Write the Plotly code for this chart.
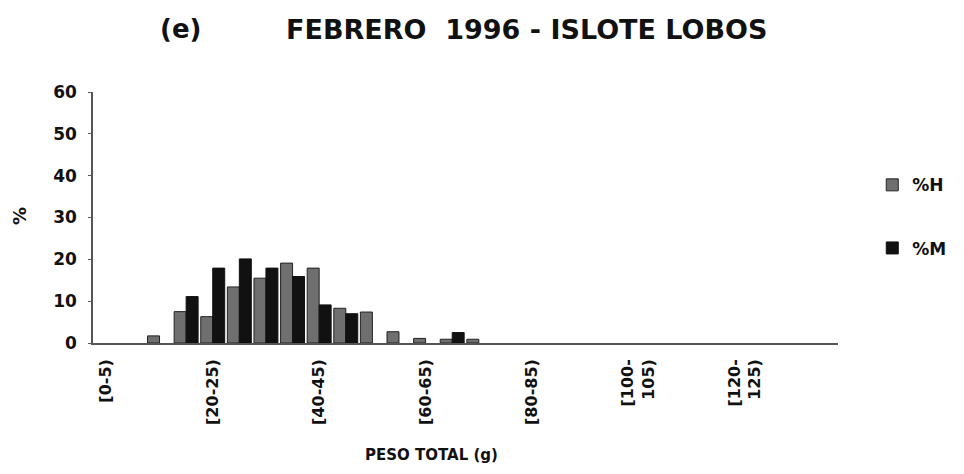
import plotly.graph_objects as go

# Categories: weight classes of 5 g
lows = list(range(0, 140, 5))
categories = [f"[{a}-{a+5})" for a in lows]

pct_h = [0, 0, 1.7, 7.5, 6.3, 13.4, 15.5, 19.1, 17.9, 8.3, 7.4, 2.7, 1.1, 0.9,
         0.9, 0, 0, 0, 0, 0, 0, 0, 0, 0, 0, 0, 0, 0]
pct_m = [0, 0, 0, 11.1, 17.9, 20.1, 17.9, 15.9, 9.1, 7.0, 0, 0, 0, 2.5,
         0, 0, 0, 0, 0, 0, 0, 0, 0, 0, 0, 0, 0, 0]

tick_cats = ["[0-5)", "[20-25)", "[40-45)", "[60-65)", "[80-85)", "[100-105)", "[120-125)"]
tick_text = ["[0-5)", "[20-25)", "[40-45)", "[60-65)", "[80-85)", "[100-<br>105)", "[120-<br>125)"]

FONT = "DejaVu Sans, sans-serif"
INK = "#111111"


def nz(vals):
    # zero-height classes are drawn as no bar at all
    return [v if v else None for v in vals]


fig = go.Figure()
fig.add_trace(go.Bar(x=categories, y=nz(pct_h), name="<b>%H</b>", legendgroup="h",
                     marker=dict(color="#6f6f6f", line=dict(color="#222222", width=1))))
fig.add_trace(go.Bar(x=categories, y=nz(pct_m), name="<b>%M</b>", legendgroup="m",
                     marker=dict(color="#111111", line=dict(color="#111111", width=1))))

# page body has an 8 px default margin, so the figure is shifted by 8 px
fig.update_layout(
    width=956, height=466,
    margin=dict(l=85, r=126, t=84, b=131),
    paper_bgcolor="white", plot_bgcolor="white",
    barmode="group", bargap=0.1, bargroupgap=0,
    font=dict(family=FONT, color=INK),
    showlegend=True,
    legend=dict(x=1.046, y=0.70, xanchor="left", yanchor="top",
                font=dict(size=17, family=FONT, color=INK),
                tracegroupgap=38, traceorder="grouped", bgcolor="rgba(0,0,0,0)"),
    xaxis=dict(type="category", categoryorder="array", categoryarray=categories,
               tickmode="array", tickvals=tick_cats,
               ticktext=[f"<b>{t}</b>" for t in tick_text],
               tickangle=-90, tickfont=dict(size=16, family=FONT, color=INK),
               showline=True, linecolor="#555555", linewidth=1.5,
               ticks="", showgrid=False, zeroline=False, ticklabelstandoff=8,
               range=[-0.5, 27.5]),
    yaxis=dict(range=[0, 60], tickmode="array", tickvals=[0, 10, 20, 30, 40, 50, 60],
               ticktext=[f"<b>{v}</b>" for v in [0, 10, 20, 30, 40, 50, 60]],
               tickfont=dict(size=17, family=FONT, color=INK),
               showline=True, linecolor="#555555", linewidth=1.5,
               ticks="outside", ticklen=3, tickcolor="#555555",
               showgrid=False, zeroline=False, ticklabelstandoff=8),
    annotations=[
        dict(text="<b>(e)</b>", xref="paper", yref="paper", x=(180 - 93) / 745,
             y=(343 - 29) / 251, xanchor="center", yanchor="middle", showarrow=False,
             font=dict(size=26, family=FONT, color=INK)),
        dict(text="<b>FEBRERO  1996 - ISLOTE LOBOS</b>", xref="paper", yref="paper",
             x=(527 - 93) / 745, y=(343 - 29) / 251, xanchor="center", yanchor="middle",
             showarrow=False, font=dict(size=27, family=FONT, color=INK)),
        dict(text="<b>PESO TOTAL (g)</b>", xref="paper", yref="paper",
             x=(431 - 93) / 745, y=(343 - 455) / 251, xanchor="center", yanchor="middle",
             showarrow=False, font=dict(size=15, family=FONT, color=INK)),
        dict(text="<b>%</b>", xref="paper", yref="paper", x=(19 - 93) / 745,
             y=(343 - 216) / 251, xanchor="center", yanchor="middle", textangle=-90,
             showarrow=False, font=dict(size=18, family=FONT, color=INK)),
    ],
)

fig.write_html("out.html")
